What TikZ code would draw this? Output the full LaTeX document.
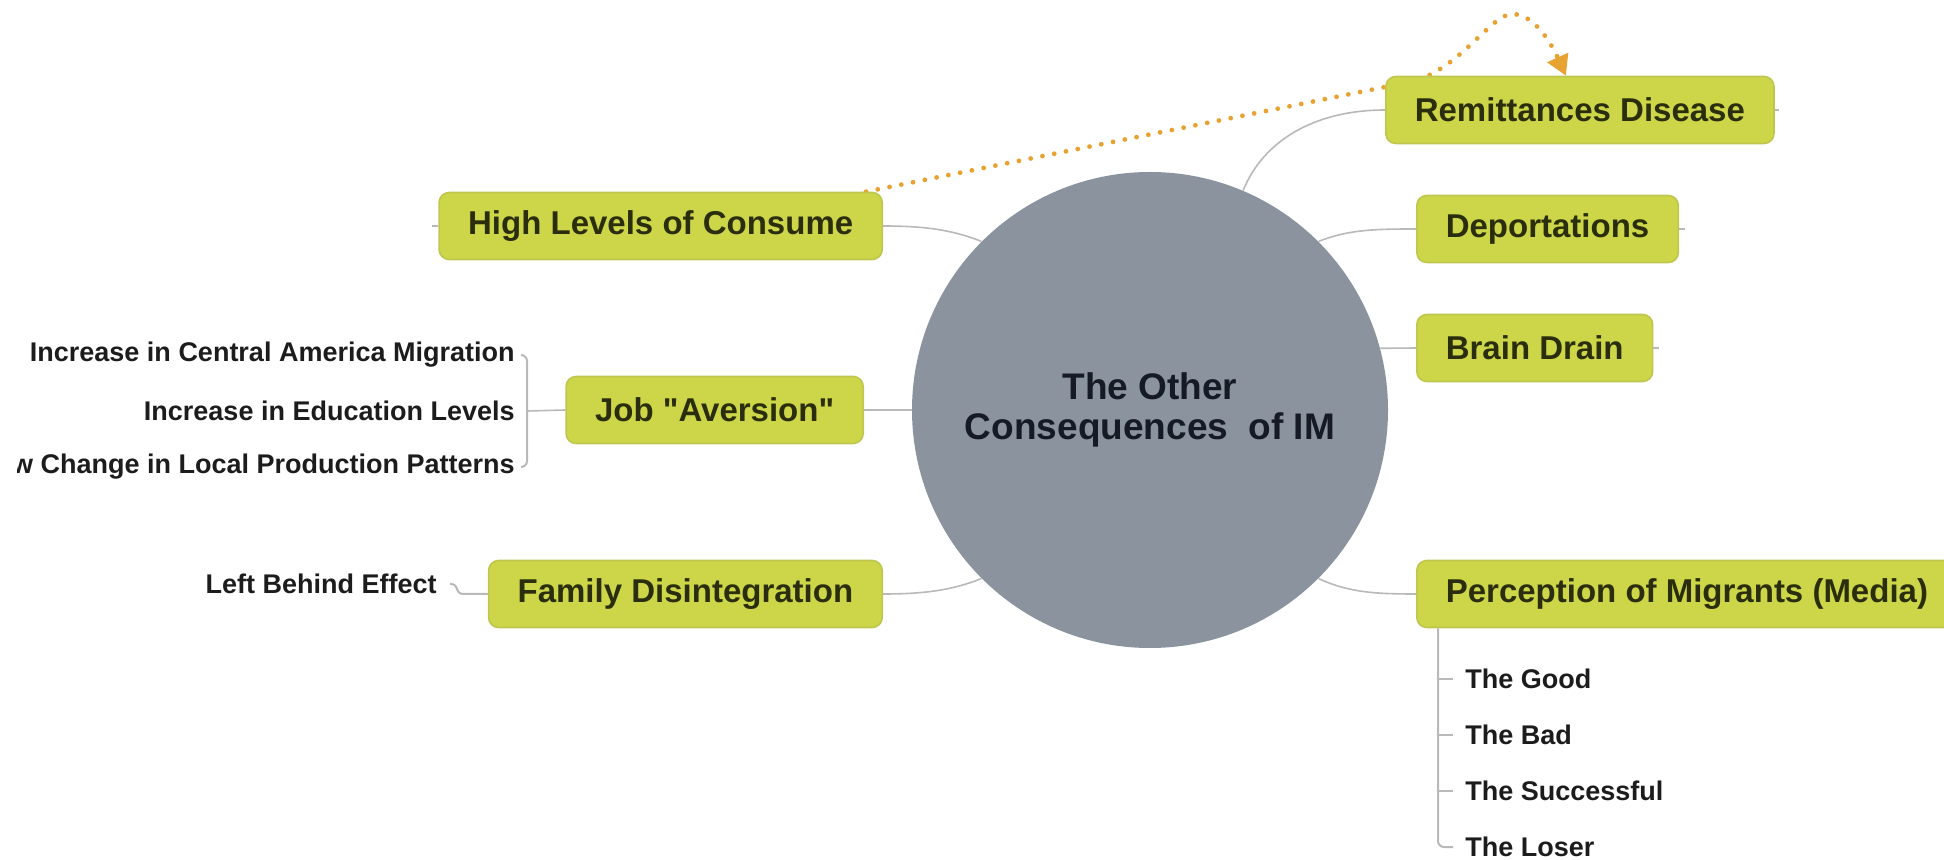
\documentclass[tikz,border=0pt]{standalone}
\usepackage{fontspec}
\setmainfont{Liberation Sans}
\usetikzlibrary{arrows.meta,backgrounds}

\definecolor{topicfill}{RGB}{205,214,72}
\definecolor{topicedge}{RGB}{190,198,78}
\definecolor{topictext}{RGB}{42,46,12}
\definecolor{hubfill}{RGB}{139,147,158}
\definecolor{hubtext}{RGB}{22,26,36}
\definecolor{leaftext}{RGB}{28,28,28}
\definecolor{linkgray}{RGB}{185,185,185}
\definecolor{relorange}{RGB}{232,162,50}

\tikzset{
  topic/.style={draw=topicedge, fill=topicfill, rounded corners=5pt, line width=0.8pt,
    text=topictext, font=\fontsize{16.5}{18}\selectfont\bfseries,
    minimum height=33.5pt, inner xsep=14.5pt},
  hub/.style={circle, fill=hubfill, minimum size=238pt, inner sep=0pt, align=center,
    text=hubtext, font=\fontsize{18.5}{20}\selectfont\bfseries},
  leaf/.style={inner sep=3pt, text=leaftext, font=\fontsize{13.5}{15}\selectfont\bfseries},
  link/.style={draw=linkgray, line width=0.8pt},
  branch/.style={draw=linkgray, line width=1pt, rounded corners=3pt},
  relation/.style={draw=relorange, line width=2.4pt, line cap=round,
    dash pattern=on 0pt off 6pt, -{Triangle[length=10pt,width=11pt]}}
}

\begin{document}
\begin{tikzpicture}[x=0.5pt, y=-0.5pt, >=stealth]
    \useasboundingbox (0,0) rectangle (1944,860);

    % ================================================================================================
    % Centre
    % ================================================================================================
    \node [hub] (hub) at (1150,410) {The Other\\Consequences\ \ of IM};

    % ================================================================================================
    % Topics
    % ================================================================================================
    \node [topic, anchor=west] (remit)   at (1385,110) {Remittances Disease};
    \node [topic, anchor=west] (deport)  at (1416,229) {Deportations};
    \node [topic, anchor=west] (brain)   at (1416,348) {Brain Drain};
    \node [topic, anchor=west] (media)   at (1416,594) {Perception of Migrants (Media)};
    \node [topic, anchor=east] (consume) at (883,226)  {High Levels of Consume};
    \node [topic, anchor=east] (job)     at (864,410)  {Job \textquotedbl Aversion\textquotedbl};
    \node [topic, anchor=east] (family)  at (883,594)  {Family Disintegration};

    % ================================================================================================
    % Sub-topics
    % ================================================================================================
    \begin{scope}
    \clip (17,320) rectangle (560,500);
    \foreach \t [count=\i] in {Increase in Central America Migration, Increase in Education Levels, New Change in Local Production Patterns}
    \node [leaf, anchor=east] (job-\i) at (521,299+\i*56) {\t};
    \end{scope}

    \foreach \t [count=\i] in {The Good, The Bad, The Successful, The Loser}
    \node [leaf, anchor=west] (media-\i) at (1459,623+\i*56) {\t};

    \node [leaf, anchor=east] (left) at (443,584) {Left Behind Effect};

    % ================================================================================================
    % Connections
    % ================================================================================================
    \draw [link] (hub.67) .. controls +(20,-50) and +(-70,0) .. (remit.west);
    \draw [link] (hub.45) .. controls +(30,-12) and +(-40,0) .. (deport.west);
    \draw [link] (hub.15) -- (brain.west);
    \draw [link] (hub.-45) .. controls +(30,14) and +(-40,0) .. (media.west);
    \draw [link] (hub.135) .. controls +(-30,-12) and +(40,0) .. (consume.east);
    \draw [link] (hub.west) -- (job.east);
    \draw [link] (hub.225) .. controls +(-30,12) and +(40,0) .. (family.east);

    \draw [link] (remit.east) -- ++(4,0);
    \draw [link] (deport.east) -- ++(6,0);
    \draw [link] (brain.east) -- ++(6,0);
    \draw [link] (consume.west) -- ++(-6,0);

    \coordinate (job-fork) at (527,411);
    \draw [branch] (job-1.east) -| (job-fork) |- (job-3.east);
    \draw [link] (job-fork) -- (job.west);

    \draw [branch] ([xshift=3.5pt]left.east) -- ++(7,0) |- (family.west);

    \coordinate (media-root) at ([xshift=11pt]media.south west);
    \draw [branch] (media-root) |- ([xshift=-3pt]media-4.west);
    \foreach \i in {1,2,3}
    \draw [branch] (media-root |- media-\i.west) -- ([xshift=-3pt]media-\i.west);

    % ================================================================================================
    % Relation
    % ================================================================================================
    \begin{pgfonlayer}{background}
    \draw [relation] ([xshift=-8.5pt]consume.north east) -- (1400,84)
      .. controls (1455,78) and (1490,14) .. (1512,14)
      .. controls (1535,14) and (1552,45) .. ([xshift=-7pt]remit.north);
    \end{pgfonlayer}

\end{tikzpicture}
\end{document}
